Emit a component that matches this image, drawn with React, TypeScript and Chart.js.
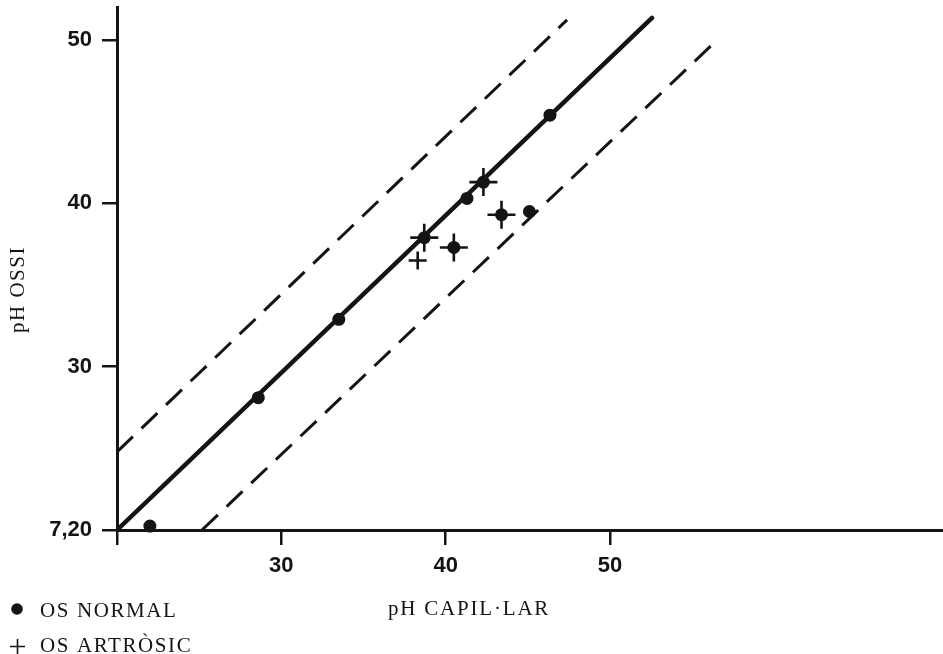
import React, { useEffect, useRef } from "react";
import { Chart, registerables } from "chart.js";

Chart.register(...registerables);

// ---- data ----
const xTickValues = [20, 30, 40, 50];
const xTickLabels = ["", "30", "40", "50"];
const yTickValues = [20, 30, 40, 50];
const yTickLabels = ["7,20", "30", "40", "50"];

const xMin = 20;
const xMax = 70.27;
const yMin = 20;
const yMax = 52.02;

const normalX = [22.0, 28.6, 33.5, 38.7, 40.5, 41.3, 42.3, 43.4, 45.1, 46.35];
const normalY = [20.24, 28.1, 32.9, 37.9, 37.3, 40.3, 41.3, 39.3, 39.5, 45.4];

const artrosicX = [38.3, 38.7, 40.5, 42.3, 43.4];
const artrosicY = [36.5, 37.9, 37.3, 41.3, 39.3];

const solidLineX = [20, 52.56];
const solidLineY = [20, 51.35];
const upperDashX = [20, 47.39];
const upperDashY = [24.78, 51.23];
const lowerDashX = [25.17, 56.27];
const lowerDashY = [20, 49.76];

const legendLabels = ["OS NORMAL", "OS ARTRÒSIC"];
const xTitle = "pH CAPIL·LAR";
const yTitle = "pH OSSI";

const toPts = (xs: number[], ys: number[]) => xs.map((x, i) => ({ x, y: ys[i] }));

const INK = "#141414";
const SERIF = '"Liberation Serif", "Times New Roman", serif';
const SANS = '"Liberation Sans", Arial, sans-serif';

const isAlsoNormal = (p: { x: number; y: number }) =>
  normalX.some((x, i) => Math.abs(x - p.x) < 0.05 && Math.abs(normalY[i] - p.y) < 0.05);

const textPlugin = {
  id: "figureText",
  afterDraw(chart: any) {
    const ctx = chart.ctx as CanvasRenderingContext2D;
    ctx.save();
    ctx.fillStyle = INK;
    ctx.strokeStyle = INK;
    ctx.font = `21px ${SERIF}`;
    (ctx as any).letterSpacing = "1.6px";
    ctx.textBaseline = "alphabetic";
    ctx.textAlign = "left";
    // legend markers
    ctx.beginPath();
    ctx.arc(17, 609, 5.8, 0, Math.PI * 2);
    ctx.fill();
    ctx.lineWidth = 1.6;
    ctx.beginPath();
    ctx.moveTo(10, 646.5);
    ctx.lineTo(25, 646.5);
    ctx.moveTo(17.5, 639);
    ctx.lineTo(17.5, 654);
    ctx.stroke();
    // legend labels
    ctx.fillText(legendLabels[0], 40, 617);
    ctx.fillText(legendLabels[1], 40, 652);
    // x title
    (ctx as any).letterSpacing = "1.8px";
    ctx.fillText(xTitle, 388, 615);
    // y title
    (ctx as any).letterSpacing = "1.5px";
    ctx.translate(24, 333);
    ctx.rotate(-Math.PI / 2);
    ctx.fillText(yTitle, 0, 0);
    ctx.restore();
  },
};

export default function App() {
  const ref = useRef<HTMLCanvasElement | null>(null);

  useEffect(() => {
    if (!ref.current) return;
    const chart = new Chart(ref.current, {
      type: "scatter",
      data: {
        datasets: [
          {
            label: "solid",
            data: toPts(solidLineX, solidLineY),
            showLine: true,
            borderColor: INK,
            borderWidth: 4.5,
            borderCapStyle: "round",
            pointRadius: 0,
          } as any,
          {
            label: "upper",
            data: toPts(upperDashX, upperDashY),
            showLine: true,
            borderColor: INK,
            borderWidth: 3,
            borderDash: [22, 12],
            pointRadius: 0,
          },
          {
            label: "lower",
            data: toPts(lowerDashX, lowerDashY),
            showLine: true,
            borderColor: INK,
            borderWidth: 3,
            borderDash: [22, 12],
            pointRadius: 0,
          },
          {
            label: legendLabels[0],
            data: toPts(normalX, normalY),
            pointStyle: "circle",
            pointRadius: 6.5,
            backgroundColor: INK,
            borderColor: INK,
            borderWidth: 0,
            clip: false,
          } as any,
          {
            label: legendLabels[1],
            data: toPts(artrosicX, artrosicY),
            pointStyle: "cross",
            pointRadius: (c: any) => (c.raw && isAlsoNormal(c.raw) ? 14 : 9),
            borderColor: INK,
            borderWidth: 2.6,
            clip: false,
          } as any,
        ],
      },
      options: {
        animation: false,
        responsive: false,
        layout: { autoPadding: false, padding: { top: 7, left: 0, right: 0, bottom: 0 } },
        plugins: {
          legend: { display: false },
          tooltip: { enabled: false },
        },
        scales: {
          x: {
            type: "linear",
            min: xMin,
            max: xMax,
            afterBuildTicks: (s: any) => {
              s.ticks = xTickValues.map((v) => ({ value: v }));
            },
            afterFit: (s: any) => {
              s.height = 124;
              s.paddingLeft = 0;
              s.paddingRight = 0;
            },
            border: { display: true, color: INK, width: 3 },
            grid: {
              drawOnChartArea: false,
              drawTicks: true,
              tickLength: 15,
              color: INK,
              lineWidth: 2.5,
            },
            ticks: {
              padding: 8,
              color: INK,
              font: { family: SANS, size: 22, weight: "bold" },
              callback: (v: any) => xTickLabels[xTickValues.indexOf(Number(v))] ?? "",
              maxRotation: 0,
              autoSkip: false,
            },
          },
          y: {
            type: "linear",
            min: yMin,
            max: yMax,
            afterBuildTicks: (s: any) => {
              s.ticks = yTickValues.map((v) => ({ value: v }));
            },
            afterFit: (s: any) => {
              s.width = 117;
              s.paddingTop = 0;
              s.paddingBottom = 0;
            },
            border: { display: true, color: INK, width: 3 },
            grid: {
              drawOnChartArea: false,
              drawTicks: true,
              tickLength: 15,
              color: INK,
              lineWidth: 2.5,
            },
            ticks: {
              padding: 10,
              color: INK,
              font: { family: SANS, size: 22, weight: "bold" },
              callback: (v: any) => yTickLabels[yTickValues.indexOf(Number(v))] ?? "",
              autoSkip: false,
            },
          },
        },
      } as any,
      plugins: [textPlugin],
    });
    return () => chart.destroy();
  }, []);

  return (
    <div style={{ position: "absolute", left: 0, top: 0, width: 943, height: 654, background: "#fff" }}>
      <canvas ref={ref} width={943} height={654} style={{ display: "block" }} />
    </div>
  );
}
